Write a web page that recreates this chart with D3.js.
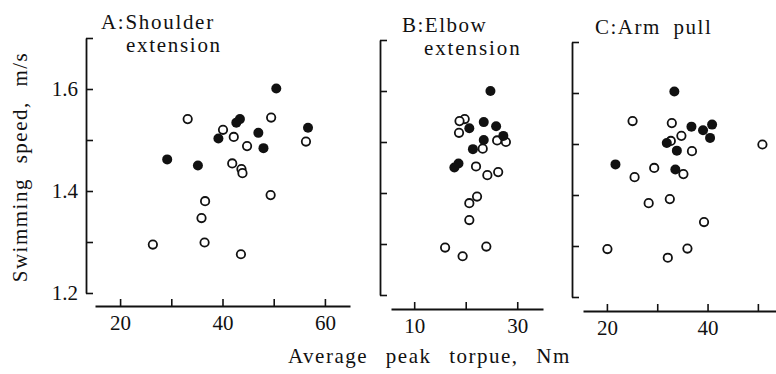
<!DOCTYPE html>
<html><head><meta charset="utf-8">
<script src="https://cdn.jsdelivr.net/npm/d3@7"></script>
</head><body style="margin:0">
<svg id="c" width="776" height="374"></svg>
<script>
// ---- data ----
const panelTitles = [["A:Shoulder", "extension"], ["B:Elbow", "extension"], ["C:Arm pull"]];
const yLabel = "Swimming speed, m/s";
const xLabel = "Average peak torpue, Nm";

const aFilledTorque = [50.5, 56.7, 43.4, 42.7, 47.0, 39.2, 48.0, 29.2, 35.2];
const aFilledSpeed  = [1.601, 1.524, 1.541, 1.534, 1.514, 1.503, 1.484, 1.462, 1.450];
const aOpenTorque   = [33.2, 49.5, 40.1, 42.2, 44.8, 56.3, 41.9, 43.7, 43.9, 49.4, 36.6, 35.9, 26.4, 36.5, 43.6];
const aOpenSpeed    = [1.541, 1.544, 1.520, 1.506, 1.488, 1.497, 1.454, 1.443, 1.435, 1.392, 1.380, 1.347, 1.295, 1.299, 1.276];

const bFilledTorque = [24.8, 23.5, 25.9, 20.7, 27.3, 23.5, 21.4, 18.6, 17.8];
const bFilledSpeed  = [1.600, 1.539, 1.531, 1.527, 1.512, 1.504, 1.486, 1.458, 1.450];
const bOpenTorque   = [19.8, 18.8, 18.7, 26.1, 27.8, 23.3, 22.0, 24.2, 26.3, 22.2, 20.7, 20.7, 16.0, 24.0, 19.4];
const bOpenSpeed    = [1.545, 1.541, 1.518, 1.503, 1.500, 1.487, 1.452, 1.435, 1.441, 1.393, 1.380, 1.347, 1.293, 1.295, 1.276];

const cFilledTorque = [33.4, 36.8, 40.9, 39.1, 40.5, 31.9, 33.9, 21.7, 33.6];
const cFilledSpeed  = [1.603, 1.534, 1.538, 1.527, 1.512, 1.502, 1.487, 1.460, 1.450];
const cOpenTorque   = [25.1, 32.9, 34.8, 32.7, 36.9, 50.9, 29.4, 25.5, 35.2, 28.3, 32.5, 39.3, 20.1, 36.0, 32.1];
const cOpenSpeed    = [1.545, 1.541, 1.516, 1.506, 1.486, 1.499, 1.453, 1.435, 1.441, 1.384, 1.392, 1.347, 1.294, 1.295, 1.277];

const yTicks = [1.2, 1.3, 1.4, 1.5, 1.6, 1.7];
const yTickLabels = [1.2, 1.4, 1.6];
const aXTicks = [20, 30, 40, 50, 60], aXLabels = [20, 40, 60];
const bXTicks = [10, 20, 30],         bXLabels = [10, 30];
const cXTicks = [20, 30, 40, 50],     cXLabels = [20, 40];

// ---- layout ----
const panels = [
  {filled:[aFilledTorque,aFilledSpeed], open:[aOpenTorque,aOpenSpeed], xTicks:aXTicks, xLabels:aXLabels,
   yAxisX:86, yRange:[293,38], xAxisY:306, xDomain:[15.1,64.9], xRange:[95,350], showYLabels:true,
   title:{x:101, y:29, ls:1.7, x2:126, y2:52, ls2:1.7}},
  {filled:[bFilledTorque,bFilledSpeed], open:[bOpenTorque,bOpenSpeed], xTicks:bXTicks, xLabels:bXLabels,
   yAxisX:380, yRange:[295,40], xAxisY:309, xDomain:[5.5,35], xRange:[391,543], showYLabels:false,
   title:{x:402, y:32, ls:1.5, x2:424, y2:55, ls2:1.9}},
  {filled:[cFilledTorque,cFilledSpeed], open:[cOpenTorque,cOpenSpeed], xTicks:cXTicks, xLabels:cXLabels,
   yAxisX:572, yRange:[297,42], xAxisY:311, xDomain:[15.25,53.6], xRange:[583,776], showYLabels:false,
   title:{x:595, y:34, ls:1.5, ws:6}}
];

const svg = d3.select("#c");
const FS = 21;
const txt = sel => sel.style("font-family", '"Liberation Serif"').attr("font-size", FS).attr("fill", "#111");

panels.forEach((p, i) => {
  const x = d3.scaleLinear().domain(p.xDomain).range(p.xRange);
  const y = d3.scaleLinear().domain([1.2, 1.7]).range(p.yRange);

  const yAx = d3.axisLeft(y).tickValues(yTicks).tickSizeInner(-7).tickSizeOuter(0).tickPadding(8)
    .tickFormat(d => (p.showYLabels && yTickLabels.some(v => Math.abs(v - d) < 1e-9)) ? d3.format(".1f")(d) : "");
  const gy = svg.append("g").attr("transform", `translate(${p.yAxisX},0)`).call(yAx);

  const xAx = d3.axisBottom(x).tickValues(p.xTicks).tickSizeInner(-7).tickSizeOuter(0).tickPadding(9)
    .tickFormat(d => p.xLabels.includes(d) ? d : "");
  const gx = svg.append("g").attr("transform", `translate(0,${p.xAxisY})`).call(xAx);

  [gx, gy].forEach(g => {
    g.attr("font-family", null).attr("font-size", null);
    g.select(".domain").attr("stroke", "#111").attr("stroke-width", 1.8);
    g.selectAll(".tick line").attr("stroke", "#111").attr("stroke-width", 1.6);
    txt(g.selectAll(".tick text"));
  });

  // open circles
  svg.append("g").selectAll("circle").data(p.open[0].map((t, k) => [t, p.open[1][k]]))
    .join("circle").attr("cx", d => x(d[0])).attr("cy", d => y(d[1])).attr("r", 4.2)
    .attr("fill", "#fff").attr("stroke", "#111").attr("stroke-width", 1.8);
  // filled circles
  svg.append("g").selectAll("circle").data(p.filled[0].map((t, k) => [t, p.filled[1][k]]))
    .join("circle").attr("cx", d => x(d[0])).attr("cy", d => y(d[1])).attr("r", 5)
    .attr("fill", "#111");

  // titles
  const t = panelTitles[i];
  txt(svg.append("text").attr("x", p.title.x).attr("y", p.title.y)
    .style("letter-spacing", p.title.ls + "px").style("word-spacing", (p.title.ws || 0) + "px").text(t[0]));
  if (t[1]) txt(svg.append("text").attr("x", p.title.x2).attr("y", p.title.y2)
    .style("letter-spacing", p.title.ls2 + "px").text(t[1]));
});

// axis labels
txt(svg.append("text").attr("transform", "translate(27,167) rotate(-90)").attr("text-anchor", "middle")
  .style("letter-spacing", "1.5px").style("word-spacing", "8px").text(yLabel));
txt(svg.append("text").attr("x", 288).attr("y", 363)
  .style("letter-spacing", "1.5px").style("word-spacing", "11px").text(xLabel));
</script>
</body></html>
